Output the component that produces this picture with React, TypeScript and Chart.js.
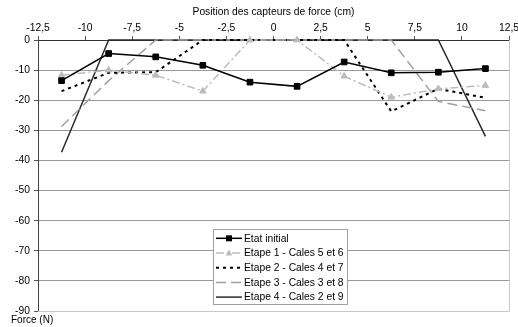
import { useEffect, useRef } from 'react';
import { Chart, registerables } from 'chart.js';

Chart.register(...registerables);

// ---- Data ----
const positions = [-11.25, -8.75, -6.25, -3.75, -1.25, 1.25, 3.75, 6.25, 8.75, 11.25];
const etatInitial = [-13.5, -4.5, -5.6, -8.4, -14.0, -15.4, -7.3, -10.9, -10.7, -9.5];
const etape1 = [-11.7, -10.0, -11.7, -17.0, 0, 0, -12.0, -19.0, -16.2, -15.1];
const etape2 = [-17.0, -10.9, -10.7, 0, 0, 0, 0, -23.7, -16.2, -19.2];
const etape3 = [-28.7, -13.5, 0, 0, 0, 0, 0, 0, -20.4, -23.5];
const etape4 = [-37.3, 0, 0, 0, 0, 0, 0, 0, 0, -32.0];

const seriesLabels = [
  'Etat initial',
  'Etape 1 - Cales 5 et 6',
  'Etape 2 - Cales 4 et 7',
  'Etape 3 - Cales 3 et 8',
  'Etape 4 - Cales 2 et 9',
];

const xMin = -12.5;
const xMax = 12.5;
const xStep = 2.5;
const yMin = -90;
const yMax = 0;
const yStep = 10;
const xTitle = 'Position des capteurs de force (cm)';
const yTitle = 'Force (N)';

const FONT = 'Liberation Sans, Arial, sans-serif';
const FS = 10.3;

const toPts = (ys: number[]) => ys.map((y, i) => ({ x: positions[i], y }));

const legendPlugin = {
  id: 'customLegend',
  afterDraw(chart: any) {
    const ctx = chart.ctx;
    const left = 213, top = 229, w = 134, h = 75;
    ctx.save();
    ctx.fillStyle = '#ffffff';
    ctx.fillRect(left, top, w, h);
    ctx.strokeStyle = '#a0a0a0';
    ctx.lineWidth = 1;
    ctx.setLineDash([]);
    ctx.strokeRect(left + 0.5, top + 0.5, w, h);
    chart.data.datasets.forEach((ds: any, i: number) => {
      const y = top + 9.3 + i * 14.7;
      ctx.save();
      ctx.strokeStyle = ds.borderColor;
      ctx.lineWidth = ds.borderWidth;
      ctx.setLineDash(ds.borderDash || []);
      ctx.beginPath();
      ctx.moveTo(left + 3, y);
      ctx.lineTo(left + 29, y);
      ctx.stroke();
      ctx.setLineDash([]);
      const mx = left + 16;
      if (ds.pointRadius > 0) {
        ctx.fillStyle = ds.pointBackgroundColor;
        if (ds.pointStyle === 'rect') {
          ctx.fillRect(mx - 3, y - 3, 6, 6);
        } else if (ds.pointStyle === 'triangle') {
          ctx.beginPath();
          ctx.moveTo(mx, y - 3.5);
          ctx.lineTo(mx + 3.2, y + 2.5);
          ctx.lineTo(mx - 3.2, y + 2.5);
          ctx.closePath();
          ctx.fill();
        }
      }
      ctx.restore();
      ctx.fillStyle = '#000';
      ctx.font = `${FS}px ${FONT}`;
      ctx.textAlign = 'left';
      ctx.textBaseline = 'middle';
      ctx.fillText(seriesLabels[i], left + 31, y + 0.5);
    });
    ctx.restore();
  },
};

const framePlugin = {
  id: 'frameAndTitle',
  beforeDatasetsDraw(chart: any) {
    const { ctx, chartArea } = chart;
    ctx.save();
    ctx.strokeStyle = '#c8c8c8';
    ctx.lineWidth = 1;
    ctx.beginPath();
    ctx.moveTo(chartArea.right + 0.5, chartArea.top);
    ctx.lineTo(chartArea.right + 0.5, chartArea.bottom + 0.5);
    ctx.lineTo(chartArea.left, chartArea.bottom + 0.5);
    ctx.stroke();
    ctx.restore();
  },
  afterDraw(chart: any) {
    const ctx = chart.ctx;
    ctx.save();
    ctx.fillStyle = '#000';
    ctx.font = `10px ${FONT}`;
    ctx.textAlign = 'left';
    ctx.textBaseline = 'middle';
    ctx.fillText(yTitle, 11, 320.5);
    ctx.restore();
  },
};

export default function App() {
  const ref = useRef<HTMLCanvasElement>(null);

  useEffect(() => {
    if (!ref.current) return;
    Chart.defaults.font.family = FONT;
    Chart.defaults.font.size = FS;
    Chart.defaults.color = '#000';

    const chart = new Chart(ref.current, {
      type: 'line',
      data: {
        datasets: [
          {
            label: seriesLabels[0],
            data: toPts(etatInitial),
            borderColor: '#000000',
            backgroundColor: '#000000',
            borderWidth: 1.5,
            pointStyle: 'rect',
            pointRadius: 4,
            pointBackgroundColor: '#000000',
            pointBorderColor: '#000000',
            pointBorderWidth: 1,
          },
          {
            label: seriesLabels[1],
            data: toPts(etape1),
            borderColor: '#bcbcbc',
            backgroundColor: '#bcbcbc',
            borderWidth: 1.5,
            borderDash: [8, 3, 2, 3],
            pointStyle: 'triangle',
            pointRadius: 3.8,
            pointBackgroundColor: '#bcbcbc',
            pointBorderColor: '#bcbcbc',
            pointBorderWidth: 1,
          },
          {
            label: seriesLabels[2],
            data: toPts(etape2),
            borderColor: '#000000',
            backgroundColor: '#000000',
            borderWidth: 2,
            borderDash: [3, 4],
            pointRadius: 0,
          },
          {
            label: seriesLabels[3],
            data: toPts(etape3),
            borderColor: '#a0a0a0',
            backgroundColor: '#a0a0a0',
            borderWidth: 1.5,
            borderDash: [10, 5],
            pointRadius: 0,
          },
          {
            label: seriesLabels[4],
            data: toPts(etape4),
            borderColor: '#2a2a2a',
            backgroundColor: '#2a2a2a',
            borderWidth: 1.5,
            pointRadius: 0,
          },
        ] as any,
      },
      options: {
        responsive: false,
        animation: false,
        devicePixelRatio: 1,
        layout: { padding: { left: 0, right: 9, top: 0, bottom: 16 } },
        plugins: {
          legend: { display: false },
          tooltip: { enabled: false },
        },
        elements: { line: { tension: 0 } },
        datasets: { line: { clip: 5 } } as any,
        scales: {
          x: {
            type: 'linear',
            position: 'top',
            min: xMin,
            max: xMax,
            ticks: {
              stepSize: xStep,
              autoSkip: false,
              maxRotation: 0,
              padding: 2,
              color: '#000',
              font: { size: FS, family: FONT },
              callback: (v: any) => String(v).replace('.', ','),
            },
            grid: {
              drawOnChartArea: false,
              drawTicks: true,
              tickLength: 4,
              color: '#555',
            },
            border: { display: true, color: '#333', width: 1 },
            title: {
              display: true,
              text: xTitle,
              color: '#000',
              font: { size: FS, family: FONT },
              padding: { top: 6, bottom: 0 },
            },
            afterFit: (s: any) => {
              s.height = 40;
              s.paddingLeft = 0;
              s.paddingRight = 0;
            },
          },
          y: {
            type: 'linear',
            position: 'left',
            min: yMin,
            max: yMax,
            ticks: {
              stepSize: yStep,
              padding: 4,
              color: '#000',
              font: { size: FS, family: FONT },
              callback: (v: any) => String(v),
            },
            grid: {
              color: (c: any) => (c.tick && c.tick.value === yMin ? '#c8c8c8' : '#999999'),
              tickColor: '#555',
              tickLength: 4,
              drawTicks: true,
            },
            border: { display: true, color: '#444', width: 1 },
            afterFit: (s: any) => {
              s.width = 38;
              s.paddingTop = 0;
              s.paddingBottom = 0;
            },
          },
        },
      } as any,
      plugins: [framePlugin, legendPlugin],
    });
    return () => chart.destroy();
  }, []);

  return (
    <div style={{ position: 'fixed', left: 0, top: 0, width: 518, height: 327, background: '#fff' }}>
      <canvas ref={ref} width={518} height={327} style={{ width: 518, height: 327, display: 'block' }} />
    </div>
  );
}
